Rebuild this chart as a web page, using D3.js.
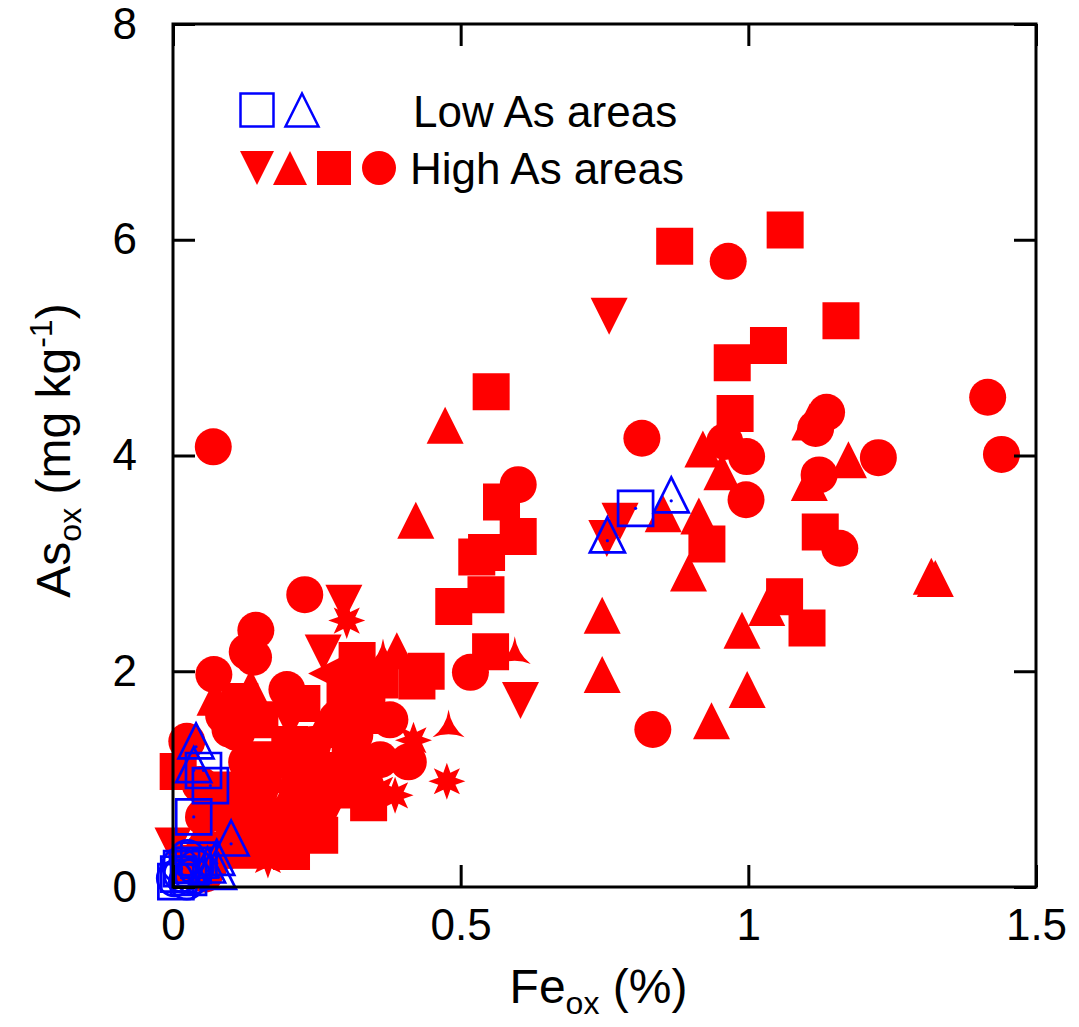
<!DOCTYPE html>
<html>
<head>
<meta charset="utf-8">
<script src="https://cdn.jsdelivr.net/npm/d3@7"></script>
<style>
  html, body { margin: 0; padding: 0; background: #fff; }
  svg { display: block; }
  text { font-family: "Liberation Sans", Arial, Helvetica, sans-serif; fill: #000; }
</style>
</head>
<body>
<svg id="chart" width="1079" height="1027"></svg>
<script>
// ---------- data (Fe_ox %, As_ox mg/kg) ----------
const xTicks = [0, 0.5, 1, 1.5];
const yTicks = [0, 2, 4, 6, 8];

const redSquares = [
  [0.872,5.94],[1.064,6.09],[1.161,5.25],[1.035,5.02],[0.972,4.86],[0.977,4.39],[0.928,3.18],[1.125,3.29],[1.063,2.69],[1.102,2.40],
  [0.553,4.59],[0.571,3.57],[0.600,3.25],[0.528,3.06],[0.545,3.10],[0.544,2.71],[0.488,2.60],[0.552,2.18],
  [0.440,2.00],[0.424,1.91],[0.320,2.10],[0.360,1.92],[0.116,1.72],[0.224,1.70],[0.337,1.59],[0.009,1.07],
  [0.273,1.08],[0.220,0.99],[0.340,0.78],[0.220,0.71],[0.308,0.90],[0.206,0.33],[0.134,0.34],[0.255,0.48],
  [0.151,1.55],[0.203,1.32],[0.308,1.18],[0.151,1.18],[0.099,0.90],[0.256,0.90],[0.151,0.62],[0.203,0.62],
  [0.073,0.34],[0.299,1.83],[0.030,0.22],[0.060,0.28]
];
const redCircles = [
  [0.965,5.80],[1.416,4.54],[1.440,4.01],[0.815,4.16],[1.136,4.40],[1.117,4.25],[0.997,3.99],[0.959,4.13],
  [1.226,3.98],[1.123,3.82],[0.996,3.59],[1.159,3.14],[0.834,1.46],
  [0.070,4.08],[0.600,3.73],[0.517,1.99],
  [0.229,2.71],[0.144,2.38],[0.129,2.18],[0.140,2.13],[0.071,1.97],[0.198,1.83],[0.088,1.59],[0.285,1.56],
  [0.111,1.43],[0.243,1.32],[0.024,1.35],[0.316,1.41],[0.189,1.18],[0.128,1.16],[0.409,1.16],[0.325,0.99],
  [0.053,0.65],[0.047,0.95],[0.151,0.76],[0.116,0.53],[0.090,0.34],
  [0.099,1.46],[0.360,1.18],[0.151,0.90],[0.099,0.62],[0.256,0.81],[0.377,1.55],[0.290,1.46],[0.055,0.12]
];
const redUp = [
  [0.921,4.06],[0.954,3.85],[1.174,3.96],[1.106,3.75],[1.107,4.31],[0.852,3.46],[0.914,3.44],[0.896,2.91],
  [0.746,2.52],[0.746,1.97],[0.989,2.38],[1.032,2.59],[0.998,1.83],[0.936,1.54],[1.318,2.88],[1.325,2.86],
  [0.473,4.28],[0.422,3.40],
  [0.073,1.76],[0.135,1.85],[0.389,2.19],[0.169,1.04],[0.099,0.81],
  [0.256,1.46],[0.203,0.90],[0.169,0.39],[0.045,0.45]
];
const redDown = [
  [0.758,5.29],[0.777,3.39],[0.754,3.23],
  [0.604,1.73],[0.297,2.63],[0.261,2.17],[0.203,1.53],[0.267,0.64],[0.000,0.38]
];
const redLeft = [[0.267,1.98]];
const redStar = [[0.302,2.47],[0.418,1.36],[0.476,0.98],[0.360,0.90],[0.386,0.85],[0.165,0.25]];
const redTri = [[0.594,2.17],[0.479,1.49],[0.365,2.15]];

const blueSquares = [[0.804,3.51],[0.053,1.08],[0.065,0.94],[0.036,0.65],[0.015,0.17],[0.027,0.09],[0.010,0.12],[0.035,0.20],[0.045,0.25],[0.005,0.05]];
const blueTriangles = [[0.866,3.58],[0.755,3.21],[0.040,1.30],[0.036,1.08],[0.101,0.40],[0.076,0.22],[0.079,0.09],[0.060,0.15]];
const blueCircles = [[0.025,0.27],[0.003,0.08],[0.024,0.05],[0.015,0.12],[0.035,0.10],[0.040,0.18],[0.012,0.20]];

// ---------- layout ----------
const L = 173, R = 1036, T = 24, B = 887;
const RED = "#ff0000", BLUE = "#0000ff";
const MS = 37;   // marker size px

const svg = d3.select("#chart");
const x = d3.scaleLinear().domain([0, 1.5]).range([L, R]);
const y = d3.scaleLinear().domain([0, 8]).range([B, T]);

// ---------- marker paths ----------
function shape(type, s) {
  const h = s / 2;
  switch (type) {
    case "square": return `M${-h},${-h}H${h}V${h}H${-h}Z`;
    case "circle": return `M${h},0A${h},${h} 0 1,1 ${-h},0A${h},${h} 0 1,1 ${h},0Z`;
    case "up": return `M0,${-h}L${h},${h}L${-h},${h}Z`;
    case "down": return `M0,${h}L${h},${-h}L${-h},${-h}Z`;
    case "left": return `M${-h},0L${h},${-h}L${h},${h}Z`;
    case "upC": return `M0,${-2*s/3}L${h},${s/3}L${-h},${s/3}Z`;
    case "star": {
      let p = "";
      for (let i = 0; i < 16; i++) {
        const r = i % 2 === 0 ? h : h * 0.5;
        const a = -Math.PI / 2 + i * Math.PI / 8;
        p += (i ? "L" : "M") + (r * Math.cos(a)).toFixed(2) + "," + (r * Math.sin(a)).toFixed(2);
      }
      return p + "Z";
    }
    case "tri": {
      let p = "";
      for (let i = 0; i < 3; i++) {
        const a0 = -Math.PI / 2 + i * 2 * Math.PI / 3;
        const a1 = a0 + 2 * Math.PI / 3;
        const am = (a0 + a1) / 2;
        const px0 = h * Math.cos(a0), py0 = h * Math.sin(a0) + h * 0.1;
        const px1 = h * Math.cos(a1), py1 = h * Math.sin(a1) + h * 0.1;
        const cx = h * 0.15 * Math.cos(am), cy = h * 0.15 * Math.sin(am) + h * 0.1;
        p += (i ? "" : `M${px0.toFixed(2)},${py0.toFixed(2)}`) + `Q${cx.toFixed(2)},${cy.toFixed(2)} ${px1.toFixed(2)},${py1.toFixed(2)}`;
      }
      return p + "Z";
    }
  }
}

const plot = svg.append("g");

function drawFilled(data, type) {
  plot.append("g").selectAll("path").data(data).join("path")
    .attr("d", shape(type, MS))
    .attr("transform", d => `translate(${x(d[0])},${y(d[1])})`)
    .attr("fill", RED);
}
function drawOpen(data, type) {
  const g = plot.append("g");
  g.selectAll("path").data(data).join("path")
    .attr("d", shape(type, 35))
    .attr("transform", d => `translate(${x(d[0])},${y(d[1])})`)
    .attr("fill", "none").attr("stroke", BLUE).attr("stroke-width", 2.7);
  g.selectAll("circle").data(data).join("circle")
    .attr("cx", d => x(d[0])).attr("cy", d => y(d[1])).attr("r", 1.6)
    .attr("fill", BLUE);
}

drawFilled(redSquares, "square");
drawFilled(redUp, "up");
drawFilled(redDown, "down");
drawFilled(redLeft, "left");
drawFilled(redCircles, "circle");
drawFilled(redStar, "star");
drawFilled(redTri, "tri");
drawOpen(blueCircles, "circle");
drawOpen(blueSquares, "square");
drawOpen(blueTriangles, "upC");

// ---------- axes ----------
const fmt = d => String(d);
const gx = svg.append("g").attr("transform", `translate(0,${B})`)
  .call(d3.axisBottom(x).tickValues(xTicks).tickFormat(fmt).tickSizeInner(-22).tickSizeOuter(0).tickPadding(22));
const gy = svg.append("g").attr("transform", `translate(${L},0)`)
  .call(d3.axisLeft(y).tickValues(yTicks).tickFormat(fmt).tickSizeInner(-22).tickSizeOuter(0).tickPadding(36));
const gt = svg.append("g").attr("transform", `translate(0,${T})`)
  .call(d3.axisTop(x).tickValues(xTicks).tickFormat("").tickSizeInner(-22).tickSizeOuter(0));
const gr = svg.append("g").attr("transform", `translate(${R},0)`)
  .call(d3.axisRight(y).tickValues(yTicks).tickFormat("").tickSizeInner(-22).tickSizeOuter(0));
[gx, gy, gt, gr].forEach(g => {
  g.select(".domain").remove();
  g.selectAll(".tick line").attr("stroke", "#000").attr("stroke-width", 3);
  g.selectAll(".tick text").attr("font-size", 44).attr("fill", "#000")
    .attr("font-family", '"Liberation Sans", Arial, sans-serif');
});

svg.append("rect").attr("x", L).attr("y", T).attr("width", R - L).attr("height", B - T)
  .attr("fill", "none").attr("stroke", "#000").attr("stroke-width", 3);

// ---------- axis titles ----------
const xt = svg.append("text").attr("x", (L + R) / 2 - 6).attr("y", 1003)
  .attr("text-anchor", "middle").attr("font-size", 48);
xt.append("tspan").text("Fe");
xt.append("tspan").attr("font-size", 32).attr("dy", 11).text("ox");
xt.append("tspan").attr("dy", -11).text(" (%)");

const yt = svg.append("text").attr("transform", `translate(70,${(T + B) / 2 - 5}) rotate(-90)`)
  .attr("text-anchor", "middle").attr("font-size", 48);
yt.append("tspan").text("As");
yt.append("tspan").attr("font-size", 32).attr("dy", 11).text("ox");
yt.append("tspan").attr("dy", -11).text(" (mg kg");
yt.append("tspan").attr("font-size", 32).attr("dy", -18).text("-1");
yt.append("tspan").attr("dy", 18).text(")");

// ---------- legend ----------
const leg = svg.append("g");
leg.append("path").attr("d", shape("square", 33)).attr("transform", "translate(257,110)")
  .attr("fill", "none").attr("stroke", BLUE).attr("stroke-width", 2.5);
leg.append("path").attr("d", shape("up", 33)).attr("transform", "translate(302,110)")
  .attr("fill", "none").attr("stroke", BLUE).attr("stroke-width", 2.5);
[["down", 257], ["up", 290], ["square", 334], ["circle", 379]].forEach(([t, cx]) => {
  leg.append("path").attr("d", shape(t, 34)).attr("transform", `translate(${cx},168)`).attr("fill", RED);
});
leg.append("text").attr("x", 413).attr("y", 127).attr("font-size", 44).text("Low As areas");
leg.append("text").attr("x", 410).attr("y", 184).attr("font-size", 44).text("High As areas");
</script>
</body>
</html>
